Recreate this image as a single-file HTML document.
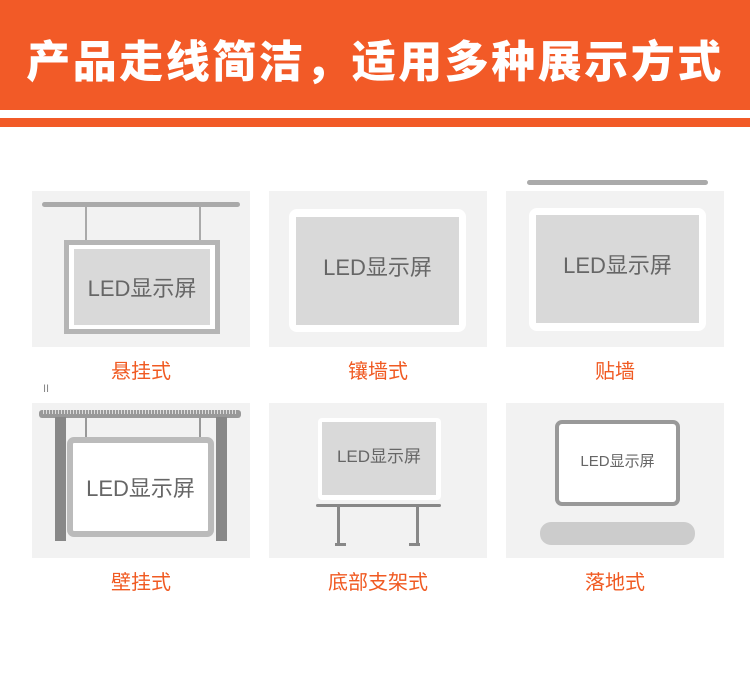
<!DOCTYPE html><html><head><meta charset="utf-8"><style>
*{margin:0;padding:0;box-sizing:border-box}
body{width:750px;height:675px;background:#fff;position:relative;overflow:hidden;font-family:"Liberation Sans","Noto Sans CJK SC",sans-serif}
.a{position:absolute}
.p{position:absolute;background:#f2f2f2}
.t{position:absolute;color:#666;font-size:21px;display:flex;align-items:center;justify-content:center}
.l{position:absolute;color:#f05a22;font-size:20px;width:218px;text-align:center}
</style></head><body>
<div class="a" style="left:0;top:0;width:750px;height:110px;background:#f25a27"></div>
<div class="a" style="left:0;top:118px;width:750px;height:9px;background:#f25a27"></div>
<div class="a" style="left:0;top:28px;width:750px;text-align:center;color:#fff;font-size:44px;font-weight:900;letter-spacing:2.5px;line-height:60px;font-family:'Noto Sans CJK SC',sans-serif;white-space:nowrap">产品走线简洁，适用多种展示方式</div>

<div class="p" style="left:32px;top:191px;width:218px;height:156px"></div>
<div class="p" style="left:269px;top:191px;width:218px;height:156px"></div>
<div class="p" style="left:506px;top:191px;width:218px;height:156px"></div>
<div class="p" style="left:32px;top:403px;width:218px;height:155px"></div>
<div class="p" style="left:269px;top:403px;width:218px;height:155px"></div>
<div class="p" style="left:506px;top:403px;width:218px;height:155px"></div>

<div class="a" style="left:42px;top:202px;width:198px;height:5px;background:#aaa;border-radius:3px"></div>
<div class="a" style="left:85px;top:207px;width:2px;height:34px;background:#aaa"></div>
<div class="a" style="left:199px;top:207px;width:2px;height:34px;background:#aaa"></div>
<div class="a" style="left:64px;top:240px;width:156px;height:94px;border:5px solid #b5b5b5;background:#fff"></div>
<div class="t" style="left:74px;top:249px;width:136px;height:76px;background:#d9d9d9;font-size:22px">LED显示屏</div>

<div class="a" style="left:289px;top:209px;width:177px;height:123px;background:#fff;border-radius:8px"></div>
<div class="t" style="left:296px;top:217px;width:163px;height:108px;background:#d9d9d9;padding-bottom:10px;font-size:22px">LED显示屏</div>

<div class="a" style="left:527px;top:180px;width:181px;height:5px;background:#aaa;border-radius:3px"></div>
<div class="a" style="left:529px;top:208px;width:177px;height:123px;background:#fff;border-radius:8px"></div>
<div class="t" style="left:536px;top:215px;width:163px;height:108px;background:#d9d9d9;padding-bottom:10px;font-size:22px">LED显示屏</div>

<div class="a" style="left:43px;top:383px;color:#888;font-size:11px">II</div>
<div class="a" style="left:39px;top:410px;width:202px;height:8px;background:#999;border-radius:3px"></div>
<div class="a" style="left:43px;top:410px;width:194px;height:4px;background:repeating-linear-gradient(90deg,#ddd 0 1px,#999 1px 3px)"></div>
<div class="a" style="left:55px;top:417px;width:11px;height:124px;background:#888"></div>
<div class="a" style="left:216px;top:417px;width:11px;height:124px;background:#888"></div>
<div class="a" style="left:85px;top:417px;width:2px;height:22px;background:#999"></div>
<div class="a" style="left:199px;top:417px;width:2px;height:22px;background:#999"></div>
<div class="t" style="left:67px;top:437px;width:147px;height:100px;border:6px solid #bbb;border-radius:7px;background:#fff;font-size:22px">LED显示屏</div>

<div class="a" style="left:318px;top:418px;width:123px;height:82px;background:#fff;border-radius:4px"></div>
<div class="t" style="left:322px;top:422px;width:114px;height:73px;background:#d9d9d9;font-size:17px;padding-bottom:8px">LED显示屏</div>
<div class="a" style="left:316px;top:504px;width:125px;height:3px;background:#888;border-radius:2px"></div>
<div class="a" style="left:337px;top:507px;width:3px;height:37px;background:#888"></div>
<div class="a" style="left:416px;top:507px;width:3px;height:37px;background:#888"></div>
<div class="a" style="left:335px;top:543px;width:11px;height:3px;background:#888"></div>
<div class="a" style="left:409px;top:543px;width:11px;height:3px;background:#888"></div>

<div class="t" style="left:555px;top:420px;width:125px;height:86px;border:4px solid #999;border-radius:7px;background:#fff;font-size:15px;padding-bottom:6px">LED显示屏</div>
<div class="a" style="left:540px;top:522px;width:155px;height:23px;background:#ccc;border-radius:11px"></div>

<div class="l" style="left:32px;top:355px">悬挂式</div>
<div class="l" style="left:269px;top:355px">镶墙式</div>
<div class="l" style="left:506px;top:355px">贴墙</div>
<div class="l" style="left:32px;top:566px">壁挂式</div>
<div class="l" style="left:269px;top:566px">底部支架式</div>
<div class="l" style="left:506px;top:566px">落地式</div>
</body></html>
